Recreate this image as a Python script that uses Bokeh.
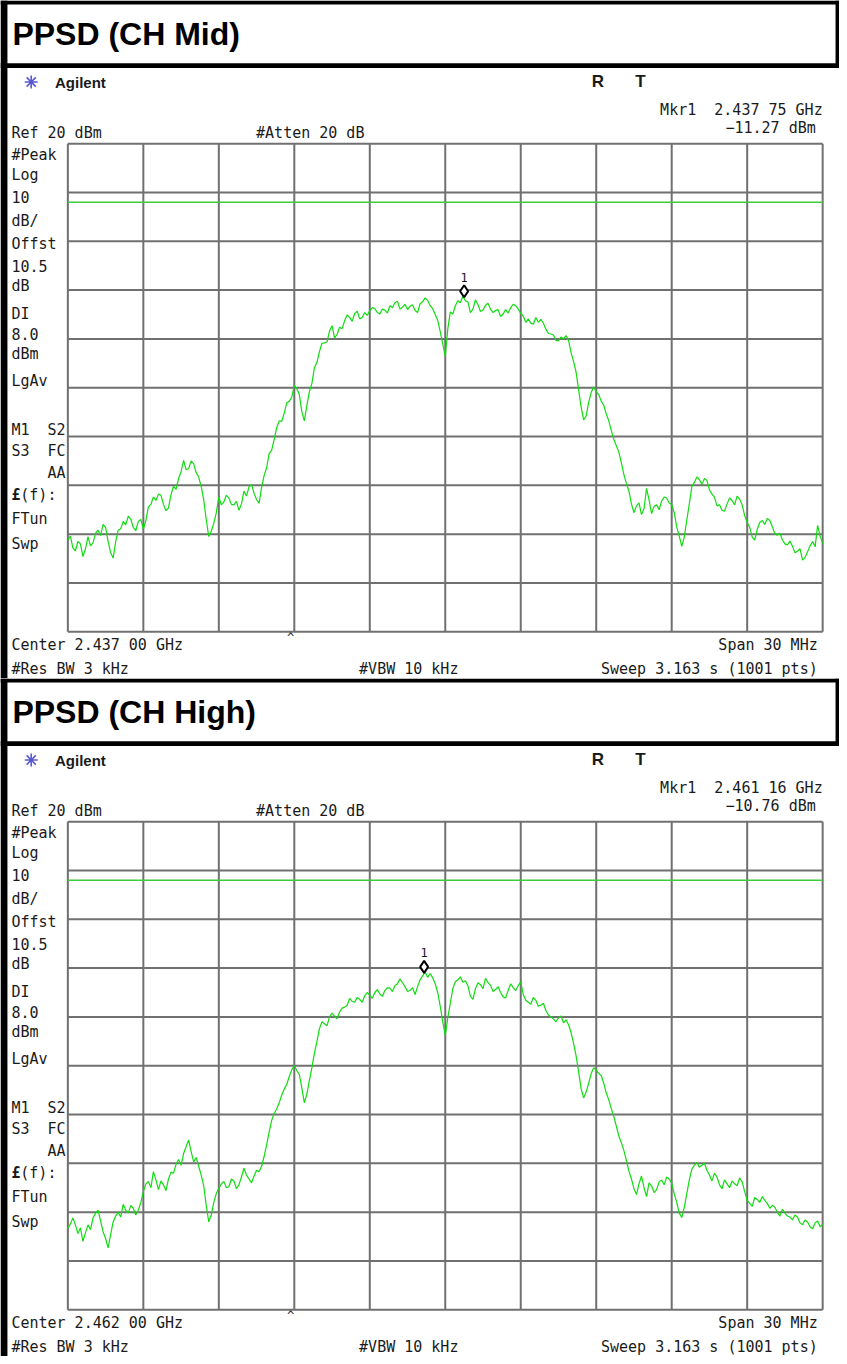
import numpy as np
from bokeh.plotting import figure
from bokeh.layouts import column
from bokeh.models import Range1d
from bokeh.core.properties import value
from bokeh.embed import file_html
from bokeh.resources import INLINE

# ---------------- data ----------------
panel_titles = ["PPSD (CH Mid)", "PPSD (CH High)"]
center_ghz = [2.437, 2.462]
span_mhz = 30
ref_level_dbm = 20
db_per_div = 10
display_line_dbm = 8.0
marker_ghz = [2.43775, 2.46116]
marker_dbm = [-11.27, -10.76]

x_ticks_mhz = [-15, -12, -9, -6, -3, 0, 3, 6, 9, 12, 15]
y_ticks_dbm = [20, 10, 0, -10, -20, -30, -40, -50, -60, -70, -80]

# frequency offset from centre (MHz) of the read-off trace samples (0.1 MHz apart)
freq_offset_mhz = [round(-15 + 0.1 * i, 1) for i in range(301)]

ch_mid_dbm = [
    -61.2, -60.4, -62.8, -63.4, -61.5, -62.0, -64.6, -63.0, -60.5, -62.4,
    -61.8, -59.8, -59.2, -60.3, -58.0, -58.6, -61.5, -63.8, -64.9, -61.6,
    -59.2, -58.9, -57.4, -58.1, -56.3, -56.9, -58.6, -59.3, -57.4, -57.0,
    -59.0, -57.2, -54.4, -53.9, -52.4, -53.1, -51.8, -52.0, -53.9, -55.2,
    -54.6, -51.9, -50.2, -50.8, -48.6, -47.2, -44.9, -46.8, -46.6, -45.0,
    -45.6, -47.4, -48.3, -50.2, -53.0, -57.0, -60.5, -59.4, -57.8, -55.6,
    -52.4, -54.0, -53.4, -52.0, -52.6, -53.9, -54.0, -53.3, -55.1, -53.8,
    -51.2, -52.2, -50.3, -49.8, -51.6, -52.9, -53.7, -50.4, -48.0, -46.4,
    -43.5, -42.8, -40.6, -38.2, -36.8, -36.9, -35.2, -33.1, -32.8, -31.9,
    -29.5, -30.2, -31.4, -34.9, -36.8, -33.6, -30.8, -29.1, -25.9, -24.8,
    -22.6, -20.9, -20.8, -20.6, -18.4, -17.3, -19.8, -19.1, -17.6, -17.9,
    -16.3, -15.1, -15.6, -16.4, -14.8, -14.3, -15.9, -15.6, -14.6, -15.2,
    -14.2, -13.6, -13.8, -14.6, -14.9, -13.9, -14.1, -14.7, -13.2, -13.6,
    -12.6, -12.3, -13.9, -13.5, -12.9, -14.0, -13.3, -13.0, -14.2, -14.6,
    -12.8, -12.4, -11.6, -12.1, -13.2, -13.8, -15.0, -16.2, -18.5, -21.0,
    -23.6, -18.0, -14.5, -14.9, -13.2, -12.2, -12.6, -11.27, -12.2, -12.4,
    -14.6, -13.9, -12.0, -13.0, -14.4, -14.1, -13.1, -12.7, -13.9, -14.6,
    -14.2, -14.0, -15.4, -14.9, -14.0, -14.7, -13.6, -12.9, -13.2, -13.9,
    -14.8, -15.3, -16.6, -15.9, -16.8, -17.0, -15.6, -16.6, -16.0, -16.8,
    -18.0, -18.9, -19.0, -19.2, -20.3, -20.4, -19.6, -20.0, -19.3, -20.3,
    -22.8, -24.6, -26.8, -30.4, -34.0, -36.6, -35.8, -33.0, -31.0, -29.8,
    -30.8, -31.4, -32.8, -33.6, -35.4, -36.8, -38.8, -40.6, -41.9, -43.2,
    -45.4, -47.8, -49.6, -51.2, -53.8, -55.6, -54.2, -53.6, -56.0, -54.8,
    -50.6, -53.0, -55.8, -54.3, -54.0, -55.0, -53.2, -52.4, -52.6, -53.6,
    -53.9, -55.6, -58.5, -60.4, -62.5, -60.6, -57.1, -53.8, -50.3, -49.4,
    -48.3, -48.8, -49.8, -48.6, -49.0, -50.9, -51.8, -52.4, -54.2, -54.0,
    -55.1, -55.3, -53.8, -52.6, -53.1, -54.0, -52.2, -52.8, -54.0, -56.2,
    -57.6, -58.6, -60.6, -61.2, -59.0, -57.6, -57.2, -58.0, -56.8, -57.2,
    -58.5, -59.9, -60.2, -59.8, -61.2, -62.0, -62.2, -61.4, -62.5, -63.8,
    -63.5, -63.0, -65.3, -64.8, -63.6, -62.4, -61.5, -62.6, -58.2, -60.4,
    -61.9,
]

ch_high_dbm = [
    -63.3, -62.4, -61.2, -62.6, -64.4, -63.2, -66.0, -64.2, -62.6, -63.6,
    -61.2, -60.2, -59.6, -61.8, -64.0, -65.4, -67.3, -64.6, -62.0, -60.8,
    -60.0, -61.0, -58.4, -59.6, -60.2, -58.6, -59.2, -60.6, -59.6, -58.0,
    -55.8, -54.2, -53.7, -55.0, -51.7, -53.4, -55.4, -53.6, -54.4, -55.6,
    -53.2, -51.8, -52.0, -50.2, -49.2, -50.4, -48.0, -46.6, -45.2, -47.6,
    -49.7, -48.8, -50.6, -52.4, -54.6, -58.6, -62.0, -60.6, -58.0, -56.2,
    -55.1, -54.2, -53.7, -55.0, -54.8, -53.2, -53.6, -55.2, -54.4, -52.8,
    -51.0, -52.4, -53.2, -54.0, -52.6, -51.4, -51.7, -50.6, -48.6, -46.2,
    -43.6, -41.2, -39.8, -38.8, -37.6, -36.0, -34.8, -33.8, -32.2, -30.8,
    -30.0, -31.0, -31.8, -34.6, -37.6, -35.8, -33.0, -30.4, -27.4, -25.0,
    -22.4, -21.0, -21.4, -21.8, -20.0, -19.2, -19.9, -20.4, -19.0, -18.2,
    -18.0, -17.6, -16.2, -16.8, -17.0, -16.0, -16.4, -17.0, -15.7, -15.0,
    -15.6, -16.2, -15.0, -14.4, -15.3, -15.8, -14.6, -14.0, -14.1, -14.8,
    -13.6, -13.2, -12.2, -13.0, -13.8, -14.8, -14.6, -14.0, -15.4, -13.8,
    -12.4, -11.6, -10.8, -11.9, -11.1, -12.0, -13.2, -15.0, -17.8, -21.0,
    -23.8, -20.2, -17.2, -14.2, -12.8, -12.4, -11.8, -12.9, -12.6, -13.6,
    -15.8, -16.4, -14.2, -13.0, -13.4, -14.2, -12.1, -13.0, -13.5, -14.8,
    -14.4, -13.8, -15.0, -15.9, -16.1, -14.6, -13.2, -14.0, -14.6, -13.6,
    -12.8, -15.4, -16.6, -17.0, -17.4, -16.0, -16.6, -17.8, -17.6, -17.2,
    -18.7, -19.6, -20.0, -20.4, -21.0, -20.2, -19.8, -21.2, -20.6, -21.6,
    -23.2, -25.4, -28.0, -31.2, -34.7, -36.6, -35.4, -33.6, -31.6, -30.4,
    -30.9, -31.6, -32.0, -33.6, -35.6, -37.0, -38.8, -40.4, -42.4, -44.4,
    -45.8, -47.4, -49.4, -51.6, -53.2, -55.2, -56.4, -54.2, -52.6, -55.0,
    -56.8, -54.0, -54.6, -56.0, -55.4, -53.8, -53.4, -54.4, -52.8, -53.2,
    -54.0, -56.2, -58.0, -60.2, -61.1, -59.0, -56.2, -53.4, -51.2, -50.4,
    -49.8, -50.8, -50.4, -50.0, -51.4, -52.4, -53.6, -52.0, -52.8, -54.4,
    -55.2, -53.4, -54.2, -55.0, -53.6, -54.2, -54.6, -53.0, -53.8, -55.8,
    -57.6, -58.2, -58.8, -57.0, -57.4, -58.0, -56.8, -57.6, -58.2, -59.2,
    -58.6, -59.0, -60.0, -60.8, -59.4, -60.2, -60.8, -61.0, -61.6, -60.6,
    -61.0, -62.2, -62.6, -61.6, -62.0, -63.0, -63.4, -62.2, -61.8, -63.0,
    -62.5,
]
traces = [ch_mid_dbm, ch_high_dbm]

# ---------------- layout (reference pixel geometry) ----------------
REF_W, PANEL_H = 847.0, 682.0
G_L, G_R, G_T, G_B = 68.0, 830.0, 144.0, 635.0
W = 839
HP = 678

def gx(px):
    return -15 + (px - G_L) * span_mhz / (G_R - G_L)

def gy(py):
    return ref_level_dbm - (py - G_T) * (db_per_div * 10) / (G_B - G_T)

PX_PER_DB = (G_B - G_T) / (db_per_div * 10)
MONO = value("DejaVu Sans Mono")
SANS = value("Liberation Sans")
TXT = "#1a1a1a"
GRID = "#707070"


def nb(s):
    return s.replace(" ", "\u00a0")


def mono(p, items, align="left", size="15px", style="normal"):
    p.text(x=[gx(a) for _, a, _ in items], y=[gy(b) for _, _, b in items],
           text=[nb(t) for t, _, _ in items], text_font=MONO, text_font_size=size,
           text_font_style=style, text_align=align, text_baseline="middle",
           text_color=TXT)


def make_panel(k):
    p = figure(width=W, height=HP, x_range=Range1d(gx(0), gx(REF_W)),
               y_range=Range1d(gy(PANEL_H), gy(0)),
               x_axis_location=None, y_axis_location=None,
               toolbar_location=None, output_backend="svg", min_border=0,
               background_fill_color="white", border_fill_color="white",
               outline_line_color=None)
    p.grid.visible = False

    # graticule
    ylo, yhi = y_ticks_dbm[-1], y_ticks_dbm[0]
    xlo, xhi = x_ticks_mhz[0], x_ticks_mhz[-1]
    p.segment(x0=x_ticks_mhz, x1=x_ticks_mhz, y0=[ylo] * len(x_ticks_mhz),
              y1=[yhi] * len(x_ticks_mhz), line_color=GRID, line_width=2)
    p.segment(x0=[xlo] * len(y_ticks_dbm), x1=[xhi] * len(y_ticks_dbm),
              y0=y_ticks_dbm, y1=y_ticks_dbm, line_color=GRID, line_width=2)

    # frame bars (black) of title band
    p.quad(left=[gx(0), gx(0), gx(0), gx(843)],
           right=[gx(7), gx(REF_W), gx(REF_W), gx(REF_W)],
           top=[gy(0), gy(0), gy(63), gy(0)],
           bottom=[gy(PANEL_H), gy(4), gy(68), gy(68)],
           fill_color="black", line_color=None)

    p.text(x=[gx(12)], y=[gy(34)], text=[panel_titles[k]],
           text_font=SANS, text_font_style="bold", text_font_size="32px",
           text_baseline="middle", text_align="left", text_color="black")

    # instrument header
    p.scatter(x=[gx(31)], y=[gy(82)], marker="asterisk", size=13,
              line_color="#5a5ad0", line_width=1.6)
    p.text(x=[gx(55)], y=[gy(82)], text=["Agilent"], text_font=SANS,
           text_font_style="bold", text_font_size="15px",
           text_baseline="middle", text_color=TXT)
    p.text(x=[gx(603), gx(646)], y=[gy(81), gy(81)], text=["R", "T"],
           text_font=SANS, text_font_style="bold", text_font_size="17px",
           text_baseline="middle", text_align="center", text_color=TXT)

    mg = f"{marker_ghz[k]:.5f}"
    mono(p, [(f"Mkr1  {mg[:5]} {mg[5:]} GHz", 830, 110),
             (f"\u2212{abs(marker_dbm[k]):.2f} dBm", 823, 128)], align="right")

    mono(p, [(f"Ref {ref_level_dbm} dBm", 11, 133), ("#Atten 20 dB", 258, 133),
             ("#Peak", 11, 155), ("Log", 11, 176), (f"{db_per_div}", 11, 198),
             ("dB/", 11, 222), ("Offst", 11, 245), ("10.5", 11, 267),
             ("dB", 11, 287), ("DI", 11, 315), (f"{display_line_dbm:.1f}", 11, 335),
             ("dBm", 11, 356), ("LgAv", 11, 383), ("M1  S2", 11, 432),
             ("S3  FC", 11, 453), ("    AA", 11, 475), ("(f):", 20, 497),
             ("FTun", 11, 522), ("Swp", 11, 547)])
    mono(p, [("\u00a3", 11, 497)], style="bold")

    cg = f"{center_ghz[k]:.5f}"
    mono(p, [(f"Center {cg[:5]} {cg[5:]} GHz", 11, 648),
             ("#Res BW 3 kHz", 11, 672), ("#VBW 10 kHz", 362, 672)])
    mono(p, [(f"Span {span_mhz} MHz", 825, 648),
             ("Sweep 3.163 s (1001 pts)", 825, 672)], align="right")
    mono(p, [("^", 293, 641)], align="center", size="12px")

    # display line
    p.segment(x0=[xlo], x1=[xhi], y0=[display_line_dbm], y1=[display_line_dbm],
              line_color="#3ccc3c", line_width=1.5)

    # trace
    p.line(x=freq_offset_mhz, y=traces[k], line_color="#10dc10", line_width=1.2)

    # marker
    mx = (marker_ghz[k] - center_ghz[k]) * 1000
    my = marker_dbm[k] + 5.0 / PX_PER_DB
    p.scatter(x=[mx], y=[my], marker="diamond", size=12, fill_color="white",
              line_color="black", line_width=2)
    p.text(x=[mx], y=[my + 14.0 / PX_PER_DB], text=["1"], text_font=MONO,
           text_font_size="12px", text_align="center", text_baseline="middle",
           text_color=TXT)
    return p


layout = column(make_panel(0), make_panel(1), spacing=0)
open("out.html", "w").write(file_html(layout, INLINE))
